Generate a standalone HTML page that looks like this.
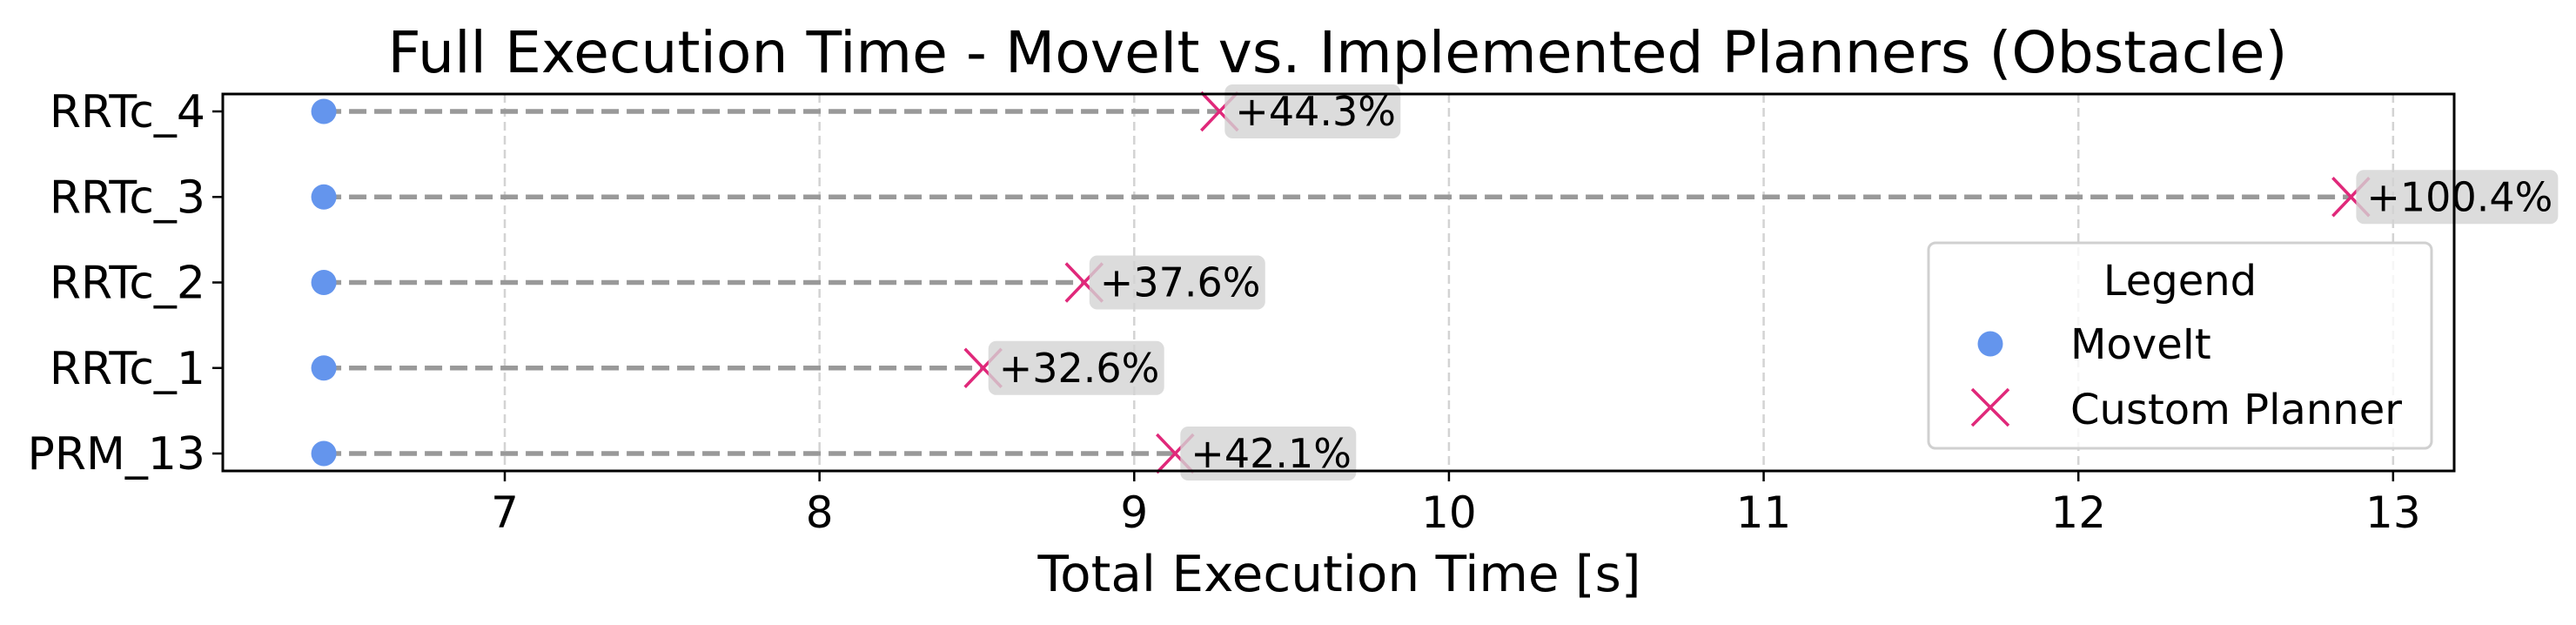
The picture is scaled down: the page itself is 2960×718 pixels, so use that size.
<!DOCTYPE html>
<html><head><meta charset="utf-8"><style>
html,body{margin:0;padding:0;background:#fff;}
svg{display:block;font-family:"DejaVu Sans","Liberation Sans",sans-serif;}
</style></head><body>
<svg id="chart" width="2960" height="718" viewBox="0 0 2960 718" xmlns="http://www.w3.org/2000/svg">
<text x="1537" y="83" font-size="66" text-anchor="middle" textLength="2183" lengthAdjust="spacingAndGlyphs">Full Execution Time - MoveIt vs. Implemented Planners (Obstacle)</text>
<g id="grid"></g>
<g id="marks"></g>
<rect x="256" y="108" width="2564" height="433" fill="none" stroke="#000" stroke-width="3"/>
<g id="axes"></g>
<text x="1539" y="679" font-size="57" text-anchor="middle" textLength="693" lengthAdjust="spacingAndGlyphs">Total Execution Time [s]</text>
<g>
<rect x="2216" y="279" width="578" height="236" rx="8" fill="#fff" fill-opacity="0.8" stroke="#d0d0d0" stroke-width="3"/>
<text x="2505" y="339" font-size="48" text-anchor="middle">Legend</text>
<ellipse cx="2287" cy="395" rx="14.5" ry="14.5" fill="#6495ED"/>
<text x="2379" y="412" font-size="48">MoveIt</text>
<g stroke="#E0287A" stroke-width="3.5"><line x1="2266" y1="447" x2="2308" y2="489"/><line x1="2266" y1="489" x2="2308" y2="447"/></g>
<text x="2379" y="487" font-size="48">Custom Planner</text>
</g>
</svg>
<script>
const categories = ["RRTc_4","RRTc_3","RRTc_2","RRTc_1","PRM_13"];
const moveitValues = [6.425,6.425,6.425,6.425,6.425];
const customValues = [9.271,12.866,8.841,8.520,9.130];
const pctLabels = ["+44.3%","+100.4%","+37.6%","+32.6%","+42.1%"];
const xTicks = [7,8,9,10,11,12,13];

const NS="http://www.w3.org/2000/svg";
const L=256,R=2820,T=108,B=541,XMIN=6.104,XMAX=13.194;
const xs=v=>L+(v-XMIN)/(XMAX-XMIN)*(R-L);
const yTop=128,yStep=98.25;
const ys=i=>yTop+i*yStep;
function mk(tag,attrs,parent){const e=document.createElementNS(NS,tag);for(const k in attrs)e.setAttribute(k,attrs[k]);parent.appendChild(e);return e;}
const grid=document.getElementById('grid'),marks=document.getElementById('marks'),axes=document.getElementById('axes');
xTicks.forEach(t=>{
  const x=xs(t);
  const g=mk('line',{x1:x,x2:x,y1:T,y2:B,stroke:'#d3d3d3','stroke-width':2.5,'stroke-dasharray':'10 6'},grid);
  
  
  const tk=mk('line',{x1:x,x2:x,y1:B,y2:B+12,stroke:'#000','stroke-width':2.5},axes);
  
  
  const tx=mk('text',{x:x,y:606,'font-size':50,'text-anchor':'middle'},axes);
  tx.textContent=t;
  
  
});
categories.forEach((c,i)=>{
  const y=ys(i);
  const tk=mk('line',{x1:L-12,x2:L,y1:y,y2:y,stroke:'#000','stroke-width':2.5},axes);
  
  
  const tx=mk('text',{x:L-20,y:y+18,'font-size':52,'text-anchor':'end'},axes);
  tx.textContent=c;
  
  
  const x0=xs(moveitValues[i]),x1=xs(customValues[i]);
  const ln=mk('line',{x1:x0,x2:x1,y1:y,y2:y,stroke:'#999','stroke-width':5.5,'stroke-dasharray':'20 9'},marks);
  
  
  const dot=mk('circle',{cx:x0,cy:y,r:14.5,fill:'#6495ED'},marks);
  
  
  const xg=mk('g',{stroke:'#E0287A','stroke-width':3.5},marks);
  
  
  mk('line',{x1:x1-21,y1:y-22,x2:x1+21,y2:y+22},xg);
  mk('line',{x1:x1-21,y1:y+22,x2:x1+21,y2:y-22},xg);
  const lab=pctLabels[i];
  const w=lab.length*30+22;
  const bx=mk('rect',{x:x1+6,y:y-31,width:w,height:62,rx:9,fill:'#d3d3d3','fill-opacity':0.8},marks);
  
  
  const t=mk('text',{x:x1+18,y:y+16,'font-size':46},marks);
  t.textContent=lab;
  
  
});
</script>
</body></html>
